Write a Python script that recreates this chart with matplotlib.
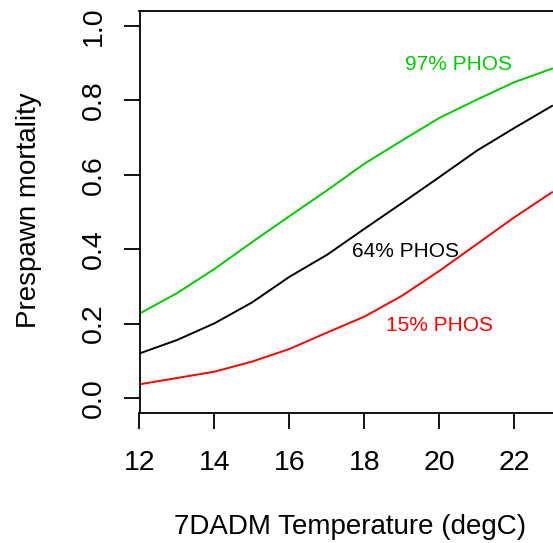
"""Prespawn mortality vs 7DADM temperature for three PHOS levels"""
import numpy as np
import matplotlib
matplotlib.use("Agg")
import matplotlib.pyplot as plt

plt.rcParams['font.family'] = ['Liberation Sans', 'DejaVu Sans']

# temperatures (degC)
temp = [12, 13, 14, 15, 16, 17, 18, 19, 20, 21, 22, 23]

# predicted prespawn mortality
phos_97 = [0.227, 0.282, 0.347, 0.419, 0.489, 0.558, 0.630, 0.692, 0.753, 0.802, 0.849, 0.885]
phos_64 = [0.120, 0.156, 0.201, 0.257, 0.326, 0.385, 0.455, 0.524, 0.594, 0.665, 0.726, 0.785]
phos_15 = [0.037, 0.054, 0.071, 0.098, 0.132, 0.176, 0.219, 0.275, 0.342, 0.414, 0.486, 0.553]

labels = ['97% PHOS', '64% PHOS', '15% PHOS']
label_x = [20.5, 19.1, 20.0]
label_y = [0.897, 0.394, 0.194]
colors = ['#00CD00', 'black', '#FF0000']

W, H = 553, 543
fig = plt.figure(figsize=(W / 100, H / 100), dpi=100)
left, right, top, bottom = 139.5, 555.75, 11, 413
ax = fig.add_axes([left / W, (H - bottom) / H, (right - left) / W, (bottom - top) / H])

for series, c in zip([phos_97, phos_64, phos_15], colors):
    ax.plot(temp, series, color=c, linewidth=1.4)

for txt, x, y, c in zip(labels, label_x, label_y, colors):
    ax.text(x, y, txt, color=c, fontsize=15, ha='center', va='center')

ax.set_xlim(12, 23.1)
ax.set_ylim(-0.04, 1.04)
ax.set_xticks([12, 14, 16, 18, 20, 22])
ax.set_yticks([0.0, 0.2, 0.4, 0.6, 0.8, 1.0])
ax.set_yticklabels(['0.0', '0.2', '0.4', '0.6', '0.8', '1.0'], rotation=90, va='center')

for s in ax.spines.values():
    s.set_linewidth(1.3)
ax.tick_params(axis='both', length=11.5, width=1.3, labelsize=20.5)
ax.tick_params(axis='x', pad=15.5)
ax.tick_params(axis='y', pad=12)

ax.set_xlabel('7DADM Temperature (degC)', fontsize=20)
ax.xaxis.label.set_va('center')
ax.xaxis.set_label_coords((350 - left) / (right - left), (bottom - 527) / (bottom - top))
ax.set_ylabel('Prespawn mortality', fontsize=20)
ax.yaxis.label.set_va('center')
ax.yaxis.set_label_coords((29 - left) / (right - left), (bottom - 210) / (bottom - top))

plt.savefig('out.png', dpi=100)
